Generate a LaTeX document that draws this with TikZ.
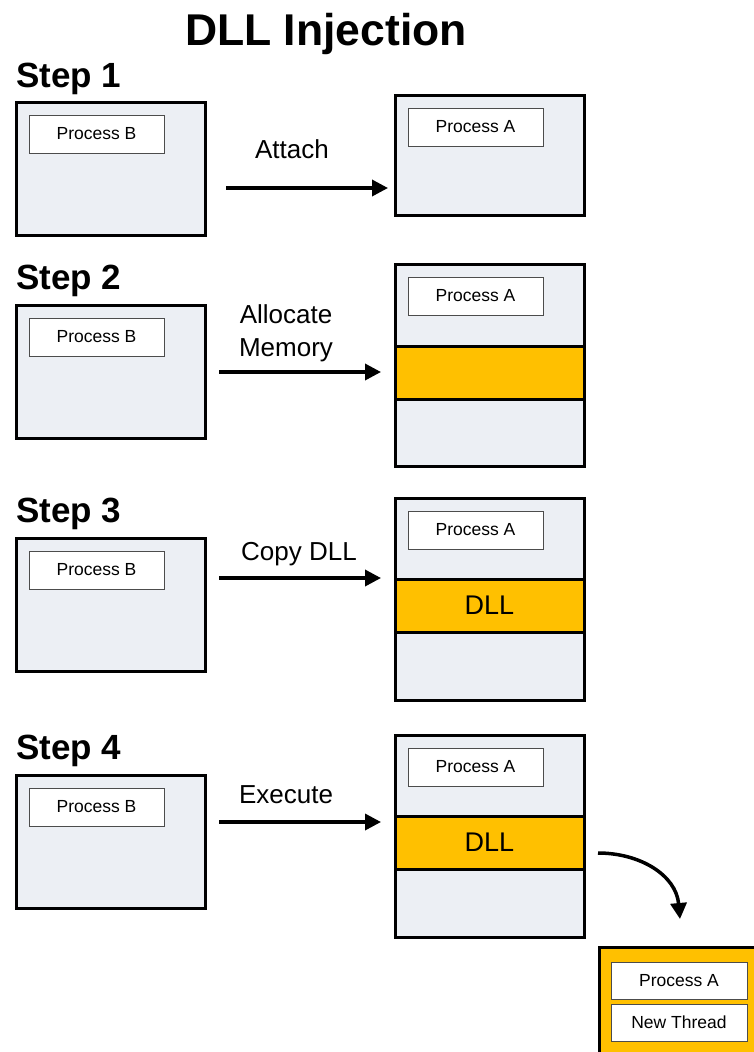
\documentclass[tikz,border=0pt]{standalone}
\usepackage{fontspec}
\setmainfont{Liberation Sans}
\usepackage{xcolor}
\usepackage{tikz}
\usetikzlibrary{positioning,calc,arrows.meta}

\definecolor{procgray}{HTML}{ECEFF4}
\definecolor{dllorange}{HTML}{FFC000}

\begin{document}
\begin{tikzpicture}[x=1pt, y=-1pt,
    outer/.style={draw, line width=3pt, fill=procgray, anchor=north west, inner sep=0pt, outer sep=0pt},
    inner/.style={draw=black!70, line width=1pt, fill=white, minimum width=135pt, minimum height=38pt, anchor=north west, inner sep=0pt, outer sep=0pt, font=\fontsize{17.5}{20}\selectfont},
    band/.style={draw, line width=3pt, fill=dllorange, minimum width=189pt, minimum height=53pt, anchor=north west, inner sep=0pt, outer sep=0pt, font=\fontsize{27}{30}\selectfont},
    steplabel/.style={anchor=base west, inner sep=0pt, font=\fontsize{35}{40}\selectfont\bfseries},
    actlabel/.style={anchor=base, inner sep=0pt, align=center, font=\fontsize{26}{33}\selectfont},
    flow/.style={line width=3.5pt, -{Triangle[length=16pt,width=16pt]}}]
    \useasboundingbox (0,0) rectangle (754,1052);

    % Title
    \node[anchor=base, inner sep=0pt, font=\fontsize{44.5}{50}\selectfont\bfseries] (title) at (326,45) {DLL Injection};

    % Step 1: attach
    \node[steplabel] (step1) at (16,87) {Step 1};
    \node[outer, minimum width=189pt, minimum height=133pt] (boxB1) at (16,102) {};
    \node[inner] (procB1) at (29,115) {Process B};
    \node[outer, minimum width=189pt, minimum height=120pt] (boxA1) at (395,95) {};
    \node[inner] (procA1) at (408,108) {Process A};
    \coordinate (from1) at (226,188);
    \coordinate (to1) at (388,188);
    \draw[flow] (from1) -- (to1);
    \node[actlabel] (act1) at (292,158) {Attach};

    % Step 2: allocate memory
    \node[steplabel] (step2) at (16,289) {Step 2};
    \node[outer, minimum width=189pt, minimum height=133pt] (boxB2) at (16,305) {};
    \node[inner] (procB2) at (29,318) {Process B};
    \node[outer, minimum width=189pt, minimum height=202pt] (boxA2) at (395,264) {};
    \node[inner] (procA2) at (408,277) {Process A};
    \node[band] (mem2) at (395,346) {};
    \coordinate (from2) at (219,372);
    \coordinate (to2) at (381,372);
    \draw[flow] (from2) -- (to2);
    \node[actlabel] (act2) at (286,356) {Allocate\\Memory};

    % Step 3: copy DLL
    \node[steplabel] (step3) at (16,522) {Step 3};
    \node[outer, minimum width=189pt, minimum height=133pt] (boxB3) at (16,538) {};
    \node[inner] (procB3) at (29,551) {Process B};
    \node[outer, minimum width=189pt, minimum height=202pt] (boxA3) at (395,498) {};
    \node[inner] (procA3) at (408,511) {Process A};
    \node[band] (dll3) at (395,579) {DLL};
    \coordinate (from3) at (219,578);
    \coordinate (to3) at (381,578);
    \draw[flow] (from3) -- (to3);
    \node[actlabel] (act3) at (299,560) {Copy DLL};

    % Step 4: execute
    \node[steplabel] (step4) at (16,759) {Step 4};
    \node[outer, minimum width=189pt, minimum height=133pt] (boxB4) at (16,775) {};
    \node[inner] (procB4) at (29,788) {Process B};
    \node[outer, minimum width=189pt, minimum height=202pt] (boxA4) at (395,735) {};
    \node[inner] (procA4) at (408,748) {Process A};
    \node[band] (dll4) at (395,816) {DLL};
    \coordinate (from4) at (219,822);
    \coordinate (to4) at (381,822);
    \draw[flow] (from4) -- (to4);
    \node[actlabel] (act4) at (286,803) {Execute};

    % New thread in process A
    \coordinate (spawn) at (598,853);
    \coordinate (land) at (680,919);
    \draw[flow] (spawn) .. controls (640,853) and (676,875) .. (land);
    \node[band, minimum width=170pt, minimum height=120pt] (thread) at (599,947) {};
    \node[inner, minimum width=136pt, minimum height=37pt] (procT) at (611,962) {Process A};
    \node[inner, minimum width=136pt, minimum height=37pt] (newT) at (611,1004) {New Thread};
\end{tikzpicture}
\end{document}
